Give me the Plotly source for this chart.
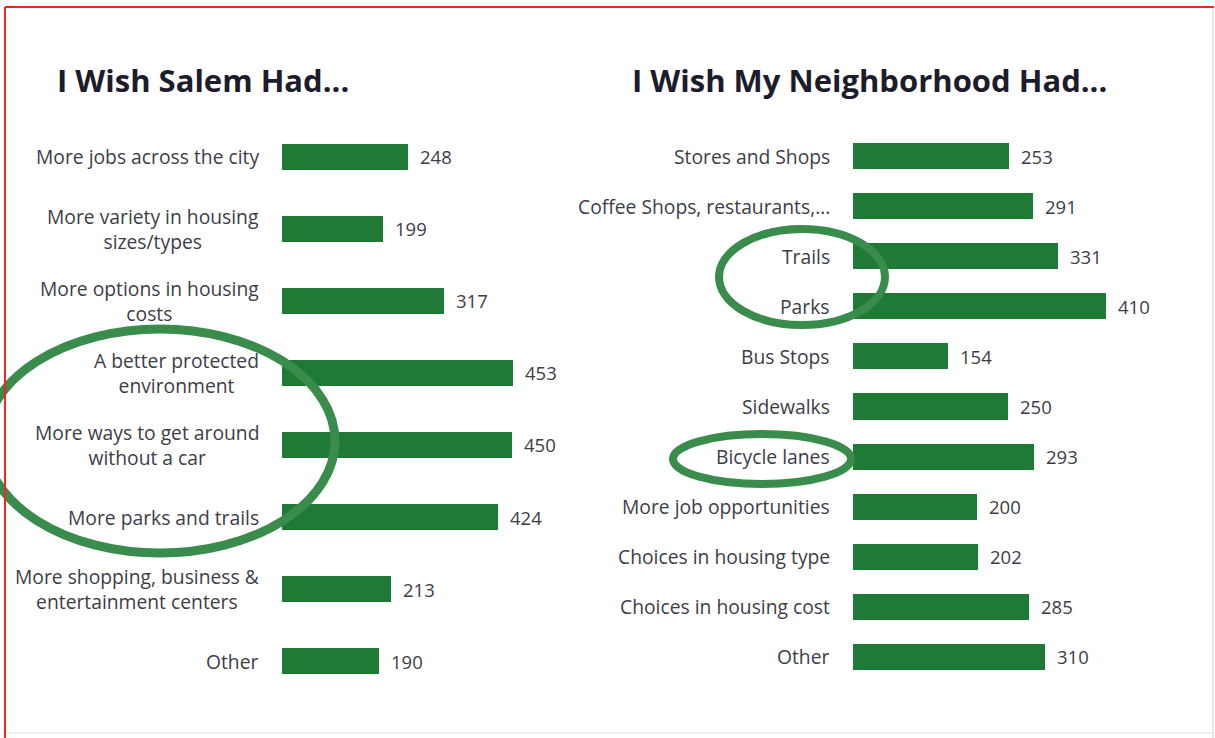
import plotly.graph_objects as go

W, H = 1215, 738

left_title = "I Wish Salem Had..."
left_cats = [
    "More jobs across the city",
    "More variety in housing<br>sizes/types",
    "More options in housing<br>costs",
    "A better protected<br>environment",
    "More ways to get around<br>without a car",
    "More parks and trails",
    "More shopping, business &amp;<br>entertainment centers",
    "Other",
]
left_vals = [248, 199, 317, 453, 450, 424, 213, 190]

right_title = "I Wish My Neighborhood Had..."
right_cats = [
    "Stores and Shops",
    "Coffee Shops, restaurants,...",
    "Trails",
    "Parks",
    "Bus Stops",
    "Sidewalks",
    "Bicycle lanes",
    "More job opportunities",
    "Choices in housing type",
    "Choices in housing cost",
    "Other",
]
right_vals = [253, 291, 331, 410, 154, 250, 293, 200, 202, 285, 310]

BAR = "#1f7a35"
RING = "#3a8c4c"
TXT = "#3d3d48"
FONT = "Open Sans"
LS = 19.3
VS = 18.5


def px(x):
    return x / W


def py(y):
    return 1 - y / H


fig = go.Figure()
fig.add_trace(go.Bar(
    x=left_vals, y=list(range(len(left_vals))), orientation="h",
    marker=dict(color=BAR, line=dict(width=0)), width=0.36,
    xaxis="x", yaxis="y", hoverinfo="skip", showlegend=False,
))
fig.add_trace(go.Bar(
    x=right_vals, y=list(range(len(right_vals))), orientation="h",
    marker=dict(color=BAR, line=dict(width=0)), width=0.52,
    xaxis="x2", yaxis="y2", hoverinfo="skip", showlegend=False,
))

ann = []
for i, (c, v) in enumerate(zip(left_cats, left_vals)):
    ann.append(dict(x=px(261), xref="paper", y=i, yref="y", text=c,
                    xanchor="right", yanchor="middle", align="center",
                    showarrow=False, font=dict(family=FONT, size=LS, color=TXT)))
    ann.append(dict(x=v, xref="x", y=i, yref="y", text=str(v), xshift=10,
                    xanchor="left", yanchor="middle", showarrow=False,
                    font=dict(family=FONT, size=VS, color=TXT)))
for i, (c, v) in enumerate(zip(right_cats, right_vals)):
    ann.append(dict(x=px(832), xref="paper", y=i, yref="y2", text=c,
                    xanchor="right", yanchor="middle", align="center",
                    showarrow=False, font=dict(family=FONT, size=LS, color=TXT)))
    ann.append(dict(x=v, xref="x2", y=i, yref="y2", text=str(v), xshift=10,
                    xanchor="left", yanchor="middle", showarrow=False,
                    font=dict(family=FONT, size=VS, color=TXT)))

ann.append(dict(x=px(55), xref="paper", y=py(80), yref="paper", text="<b>" + left_title + "</b>",
                xanchor="left", yanchor="middle", showarrow=False,
                font=dict(family=FONT, size=31, color="#1c1c2a")))
ann.append(dict(x=px(630), xref="paper", y=py(80), yref="paper", text="<b>" + right_title + "</b>",
                xanchor="left", yanchor="middle", showarrow=False,
                font=dict(family=FONT, size=31, color="#1c1c2a")))

shapes = [
    # ellipses
    dict(type="circle", xref="paper", yref="paper", x0=px(-15), x1=px(335), y0=py(553), y1=py(329),
         line=dict(color=RING, width=9), layer="above"),
    dict(type="circle", xref="paper", yref="paper", x0=px(719), x1=px(885), y0=py(325), y1=py(229),
         line=dict(color=RING, width=8), layer="above"),
    dict(type="circle", xref="paper", yref="paper", x0=px(673), x1=px(851), y0=py(484), y1=py(434),
         line=dict(color=RING, width=8), layer="above"),
    # frame
    dict(type="line", xref="paper", yref="paper", x0=px(5), x1=px(1214), y0=py(7), y1=py(7),
         line=dict(color="#ff2020", width=2), layer="above"),
    dict(type="line", xref="paper", yref="paper", x0=px(5), x1=px(5), y0=py(7), y1=0,
         line=dict(color="#ff2020", width=2), layer="above"),
    dict(type="line", xref="paper", yref="paper", x0=px(1213), x1=px(1213), y0=py(8), y1=0,
         line=dict(color="#d8e4e0", width=1.5), layer="above"),
    dict(type="line", xref="paper", yref="paper", x0=px(6), x1=px(1213), y0=py(733), y1=py(733),
         line=dict(color="#f6e4e4", width=1.5), layer="above"),
]

fig.update_layout(
    width=W, height=H,
    margin=dict(l=0, r=0, t=0, b=0),
    paper_bgcolor="white", plot_bgcolor="white",
    bargap=0,
    xaxis=dict(domain=[px(282), px(588)], range=[0, 600], visible=False, fixedrange=True),
    yaxis=dict(domain=[py(697), py(121)], range=[7.5, -0.5], visible=False, fixedrange=True),
    xaxis2=dict(domain=[px(853), px(1162)], range=[0, 500], visible=False, fixedrange=True, anchor="y2"),
    yaxis2=dict(domain=[py(682), py(131)], range=[10.5, -0.5], visible=False, fixedrange=True, anchor="x2"),
    annotations=ann,
    shapes=shapes,
)

fig.write_html("out.html")
